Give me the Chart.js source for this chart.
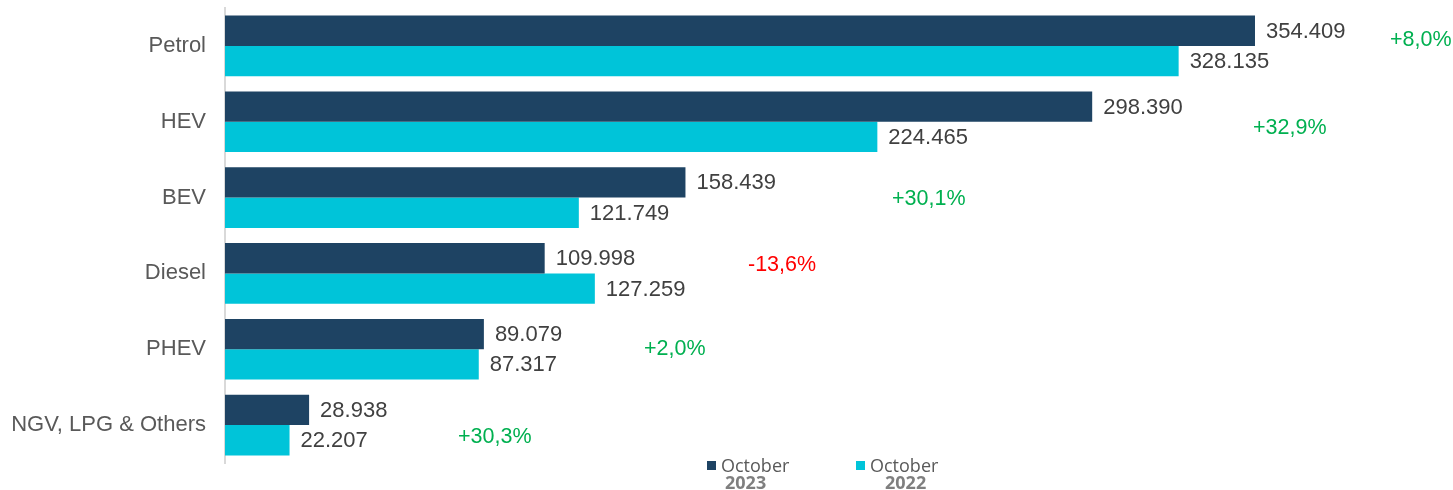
<!DOCTYPE html>
<html>
<head>
<meta charset="utf-8">
<script src="https://cdn.jsdelivr.net/npm/chart.js@4.4.0/dist/chart.umd.min.js"></script>
<style>
  html, body { margin: 0; padding: 0; background: #ffffff; }
  #wrap { width: 1453px; height: 490px; position: relative; }
</style>
</head>
<body>
<div id="wrap"><canvas id="c"></canvas></div>
<script>
const categories = ['Petrol', 'HEV', 'BEV', 'Diesel', 'PHEV', 'NGV, LPG & Others'];
const oct2023 = [354409, 298390, 158439, 109998, 89079, 28938];
const oct2022 = [328135, 224465, 121749, 127259, 87317, 22207];
const changeLabels = ['+8,0%', '+32,9%', '+30,1%', '-13,6%', '+2,0%', '+30,3%'];
const seriesNames = ['October', 'October'];
const seriesYears = ['2023', '2022'];

const DARK = '#1E4363';
const CYAN = '#00C4D9';

function fmt(v) {
  const th = Math.floor(v / 1000);
  const rest = String(v % 1000).padStart(3, '0');
  return th > 0 ? th + '.' + rest : String(v);
}

const labelsPlugin = {
  id: 'valueLabels',
  afterDatasetsDraw(chart, args, opts) {
    const ctx = chart.ctx;
    ctx.save();
    ctx.font = '22px "Liberation Sans", Arial, sans-serif';
    ctx.fillStyle = '#404040';
    ctx.textAlign = 'left';
    ctx.textBaseline = 'middle';
    chart.data.datasets.forEach((ds, di) => {
      const meta = chart.getDatasetMeta(di);
      meta.data.forEach((bar, i) => {
        ctx.fillText(fmt(ds.data[i]), bar.x + 11, bar.y + 1);
      });
    });
    const xs = chart.scales.x, ys = chart.scales.y;
    ctx.font = '21.5px "Liberation Sans", Arial, sans-serif';
    changeLabels.forEach((t, i) => {
      ctx.fillStyle = t.trim().startsWith('-') ? '#FF0000' : '#00B050';
      const x = xs.getPixelForValue(opts.pctPos[i]);
      const y = ys.getPixelForValue(i) + opts.pctDy[i];
      ctx.fillText(t, x, y);
    });
    ctx.restore();
  }
};

const legendPlugin = {
  id: 'customLegend',
  afterDraw(chart, args, opts) {
    const ctx = chart.ctx;
    ctx.save();
    const colors = [DARK, CYAN];
    opts.items.forEach((it, i) => {
      ctx.fillStyle = colors[i];
      ctx.fillRect(it.x, 461, 9, 9);
      ctx.fillStyle = '#595959';
      ctx.font = '18px "Open Sans", sans-serif';
      ctx.textAlign = 'left';
      ctx.textBaseline = 'alphabetic';
      ctx.fillText(seriesNames[i], it.x + 14, 472);
      ctx.fillStyle = '#7F7F7F';
      ctx.font = 'bold 18px "Open Sans", sans-serif';
      ctx.fillText(seriesYears[i], it.x + 14 + it.yearIndent, 489);
    });
    ctx.restore();
  }
};

new Chart(document.getElementById('c'), {
  type: 'bar',
  data: {
    labels: categories,
    datasets: [
      { label: seriesNames[0] + ' ' + seriesYears[0], data: oct2023, backgroundColor: DARK, categoryPercentage: 0.8, barPercentage: 1.0 },
      { label: seriesNames[1] + ' ' + seriesYears[1], data: oct2022, backgroundColor: CYAN, categoryPercentage: 0.8, barPercentage: 1.0 }
    ]
  },
  plugins: [labelsPlugin, legendPlugin],
  options: {
    indexAxis: 'y',
    responsive: true,
    maintainAspectRatio: false,
    animation: false,
    layout: { padding: { top: 8, bottom: 27, left: 0, right: 0 } },
    scales: {
      x: { display: false, min: 0, max: 422540 },
      y: {
        grid: { display: false, drawTicks: false },
        border: { display: true, color: '#D9D9D9', width: 2 },
        ticks: {
          color: '#595959',
          padding: 19,
          font: { family: '"Liberation Sans", Arial, sans-serif', size: 22 }
        },
        afterFit(scale) {
          scale.width = 225;
          scale.paddingTop = 0;
          scale.paddingBottom = 0;
        }
      }
    },
    plugins: {
      legend: { display: false },
      tooltip: { enabled: false },
      valueLabels: {
        pctPos: [400870, 353720, 229510, 179960, 144170, 80170],
        pctDy: [-6, 6.5, 1.5, -8, 0, 12]
      },
      customLegend: {
        items: [ { x: 707, yearIndent: 4 }, { x: 856, yearIndent: 15 } ]
      }
    }
  }
});
</script>
</body>
</html>
